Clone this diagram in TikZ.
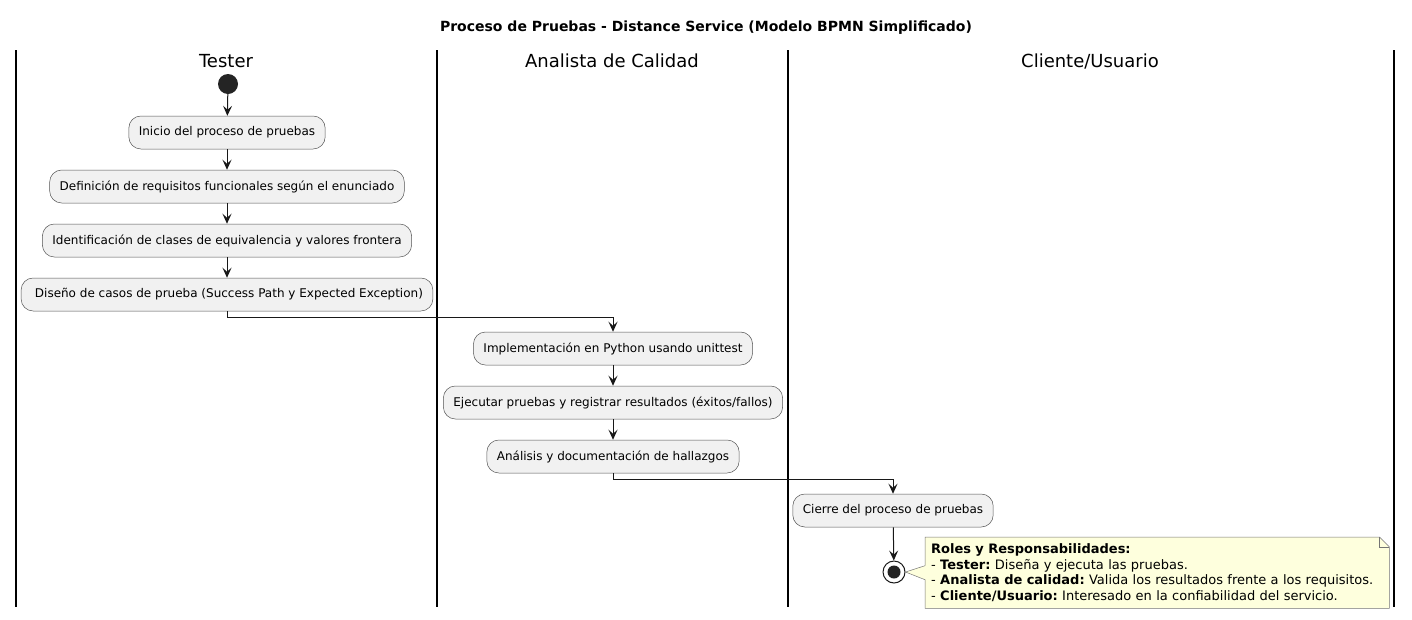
\documentclass[tikz,border=0pt]{standalone}
\usepackage{fontspec}
\setmainfont{DejaVu Sans}
\usetikzlibrary{arrows.meta}
\definecolor{actfill}{HTML}{F1F1F1}
\definecolor{actline}{HTML}{181818}
\definecolor{notefill}{HTML}{FEFFDD}
\frenchspacing

\begin{document}
\begin{tikzpicture}[x=1pt,y=-1pt,
  act/.style={draw=actline!75,fill=actfill,rounded corners=12pt,minimum height=33pt,inner xsep=10pt,inner ysep=0pt,line width=0.5pt,font=\fontsize{12}{14}\selectfont},
  flow/.style={draw=actline,line width=1pt,-{Stealth[length=10pt,width=9pt,inset=4pt]}},
  lane/.style={draw=black,line width=1.4pt},
  lanetitle/.style={font=\fontsize{18}{21}\selectfont},
  notebox/.style={anchor=north west,text width=452pt,inner xsep=6pt,inner ysep=5pt,minimum height=71pt,align=left,font=\fontsize{13}{15.5}\selectfont}]
\useasboundingbox (0,0) rectangle (1412,619);
\node[font=\bfseries\fontsize{14}{16}\selectfont] (title) at (706,28) {Proceso de Pruebas - Distance Service (Modelo BPMN Simplificado)};
\draw[lane] (16,50) -- (16,607);
\draw[lane] (437,50) -- (437,607);
\draw[lane] (788,50) -- (788,607);
\draw[lane] (1394,50) -- (1394,607);
\node[lanetitle] (tester) at (226,61) {Tester};
\node[lanetitle] (analista) at (612,61) {Analista de Calidad};
\node[lanetitle] (cliente) at (1090,61) {Cliente/Usuario};
\node[circle,fill=actline!95,minimum size=20pt,inner sep=0pt] (start) at (228,84) {};
\node[act] (inicio) at (227,132.5) {Inicio del proceso de pruebas};
\node[act] (definicion) at (227,186.5) {Definición de requisitos funcionales según el enunciado};
\node[act] (identificacion) at (227,240.5) {Identificación de clases de equivalencia y valores frontera};
\node[act] (diseno) at (227,294.5) {\ Diseño de casos de prueba (Success Path y Expected Exception)};
\node[act] (implementacion) at (613,348.5) {Implementación en Python usando unittest};
\node[act] (ejecutar) at (613,402.5) {Ejecutar pruebas y registrar resultados (éxitos/fallos)};
\node[act] (analisis) at (613,456.5) {Análisis y documentación de hallazgos};
\node[act] (cierre) at (893,510.5) {Cierre del proceso de pruebas};
\node[circle,draw=actline,line width=1pt,fill=white,minimum size=22pt,inner sep=0pt] (end) at (894,572) {};
\fill[actline!95] (end) circle[radius=6.5pt];
\draw[flow] (start) -- (inicio);
\draw[flow] (inicio) -- (definicion);
\draw[flow] (definicion) -- (identificacion);
\draw[flow] (identificacion) -- (diseno);
\draw[flow] (diseno.south) -- ++(0,6) -| (implementacion.north);
\draw[flow] (implementacion) -- (ejecutar);
\draw[flow] (ejecutar) -- (analisis);
\draw[flow] (analisis.south) -- ++(0,6) -| (cierre.north);
\draw[flow] (cierre) -- (end);
\path (925,537) node[notebox] (note) {\phantom{X}};
\filldraw[fill=notefill,draw=actline!60,line width=0.5pt] (note.north west) -- ([xshift=-10pt]note.north east) -- ([yshift=-10pt]note.north east) -- (note.south east) -- (note.south west) -- cycle;
\draw[draw=actline!60,line width=0.5pt] ([xshift=-10pt]note.north east) -- ([xshift=-10pt,yshift=-10pt]note.north east) -- ([yshift=-10pt]note.north east);
\fill[notefill] (end.east) -- ([yshift=7pt]note.west) -- ([xshift=1pt,yshift=7pt]note.west) -- ([xshift=1pt,yshift=-7pt]note.west) -- ([yshift=-7pt]note.west) -- cycle;
\draw[draw=actline!60,line width=0.5pt] ([yshift=7pt]note.west) -- (end.east) -- ([yshift=-7pt]note.west);
\node[notebox] (notetext) at (925,537) {\textbf{Roles y Responsabilidades:}\\- \textbf{Tester:} Diseña y ejecuta las pruebas.\\- \textbf{Analista de calidad:} Valida los resultados frente a los requisitos.\\- \textbf{Cliente/Usuario:} Interesado en la confiabilidad del servicio.};
\end{tikzpicture}
\end{document}
